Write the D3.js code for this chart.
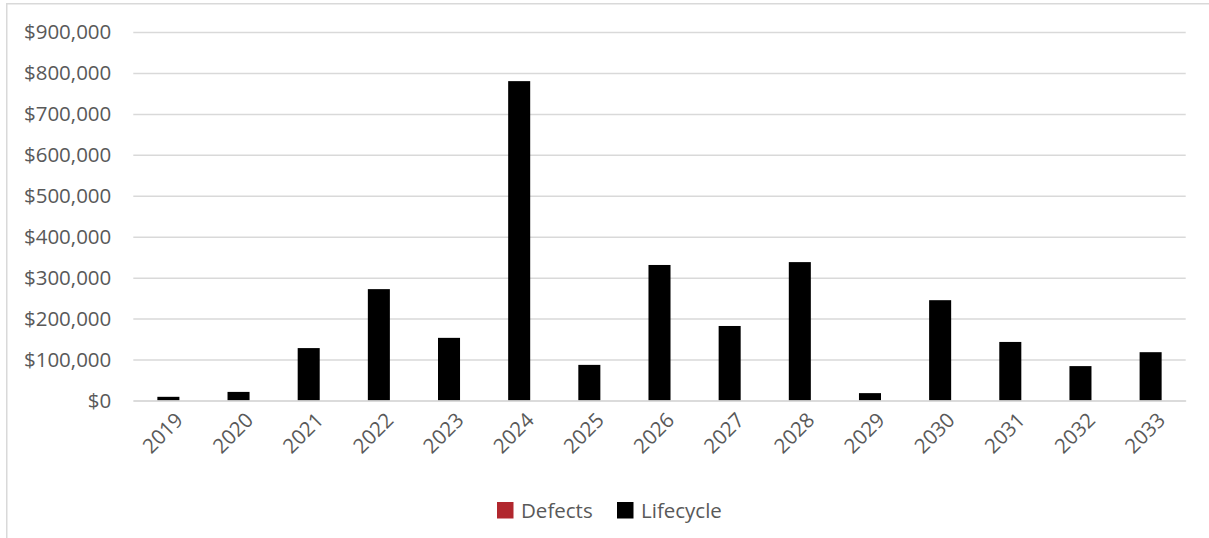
<!DOCTYPE html>
<html>
<head>
<meta charset="utf-8">
<script src="https://cdn.jsdelivr.net/npm/d3@7"></script>
<style>
  html, body { margin: 0; padding: 0; background: #fff; }
  svg { display: block; }
  text { font-family: "Open Sans", "Liberation Sans", sans-serif; fill: #595959; }
</style>
</head>
<body>
<svg id="chart" width="1209" height="538"></svg>
<script>
// Annual cost per year, split by category
const years = ["2019","2020","2021","2022","2023","2024","2025","2026","2027","2028","2029","2030","2031","2032","2033"];
const defects = [0,0,0,0,0,0,0,0,0,0,0,0,0,0,0];
const lifecycle = [9000,21000,128000,272000,153000,780000,87000,331000,182000,338000,18000,245000,143000,84000,118000];
const seriesNames = ["Defects", "Lifecycle"];
const seriesColors = ["#B1272E", "#000000"];
const yTicks = [0,100000,200000,300000,400000,500000,600000,700000,800000,900000];

const svg = d3.select("#chart");
const W = 1209, H = 538;

// outer chart frame (only the top and left edges fall inside the view)
svg.append("path")
  .attr("d", `M6.75,${H} V3.75 H${W}`)
  .attr("fill", "none")
  .attr("stroke", "#D9D9D9")
  .attr("stroke-width", 1.5);

const plot = { left: 133.3, right: 1185.7, top: 32, bottom: 400.5 };

const x = d3.scaleBand()
  .domain(years)
  .range([plot.left, plot.right])
  .paddingInner(0.686)
  .paddingOuter(0.343);

const y = d3.scaleLinear()
  .domain([0, 900000])
  .range([plot.bottom, plot.top]);

// horizontal gridlines + y labels
const yAxis = d3.axisLeft(y)
  .tickValues(yTicks)
  .tickSize(-(plot.right - plot.left))
  .tickPadding(22)
  .tickFormat(d => "$" + d3.format(",")(d));

const gy = svg.append("g")
  .attr("transform", `translate(${plot.left},0)`)
  .call(yAxis);
gy.select(".domain").remove();
gy.selectAll(".tick line").attr("stroke", "#D9D9D9").attr("stroke-width", 1.5);
gy.selectAll(".tick text")
  .attr("font-size", 20.5)
  .attr("fill", "#595959")
  .attr("font-family", "'Open Sans', sans-serif");

// stacked bars
const rows = years.map((yr, i) => ({ year: yr, Defects: defects[i], Lifecycle: lifecycle[i] }));
const stack = d3.stack().keys(seriesNames)(rows);

svg.append("g").selectAll("g")
  .data(stack)
  .join("g")
  .attr("fill", (d, i) => seriesColors[i])
  .selectAll("rect")
  .data(d => d)
  .join("rect")
  .attr("x", d => x(d.data.year))
  .attr("width", x.bandwidth())
  .attr("y", d => y(d[1]))
  .attr("height", d => y(d[0]) - y(d[1]));

// category axis (baseline + rotated year labels)
const xAxis = d3.axisBottom(x).tickSize(0).tickPadding(0);
const gx = svg.append("g")
  .attr("transform", `translate(0,${plot.bottom})`)
  .call(xAxis);
gx.select(".domain")
  .attr("stroke", "#D9D9D9")
  .attr("stroke-width", 1.5);
gx.selectAll(".tick text")
  .attr("font-size", 20.5)
  .attr("fill", "#595959")
  .attr("font-family", "'Open Sans', sans-serif")
  .attr("text-anchor", "end")
  .attr("dy", 0)
  .attr("transform", "translate(16,21) rotate(-45)");

// legend
const legend = svg.append("g").attr("transform", "translate(497,502)");
const legendX = [0, 120];
seriesNames.forEach((name, i) => {
  const g = legend.append("g").attr("transform", `translate(${legendX[i]},0)`);
  g.append("rect").attr("width", 16.5).attr("height", 16.5).attr("fill", seriesColors[i]);
  g.append("text")
    .attr("x", 24)
    .attr("y", 16)
    .attr("font-size", 20.5)
    .attr("fill", "#595959")
    .text(name);
});
</script>
</body>
</html>
